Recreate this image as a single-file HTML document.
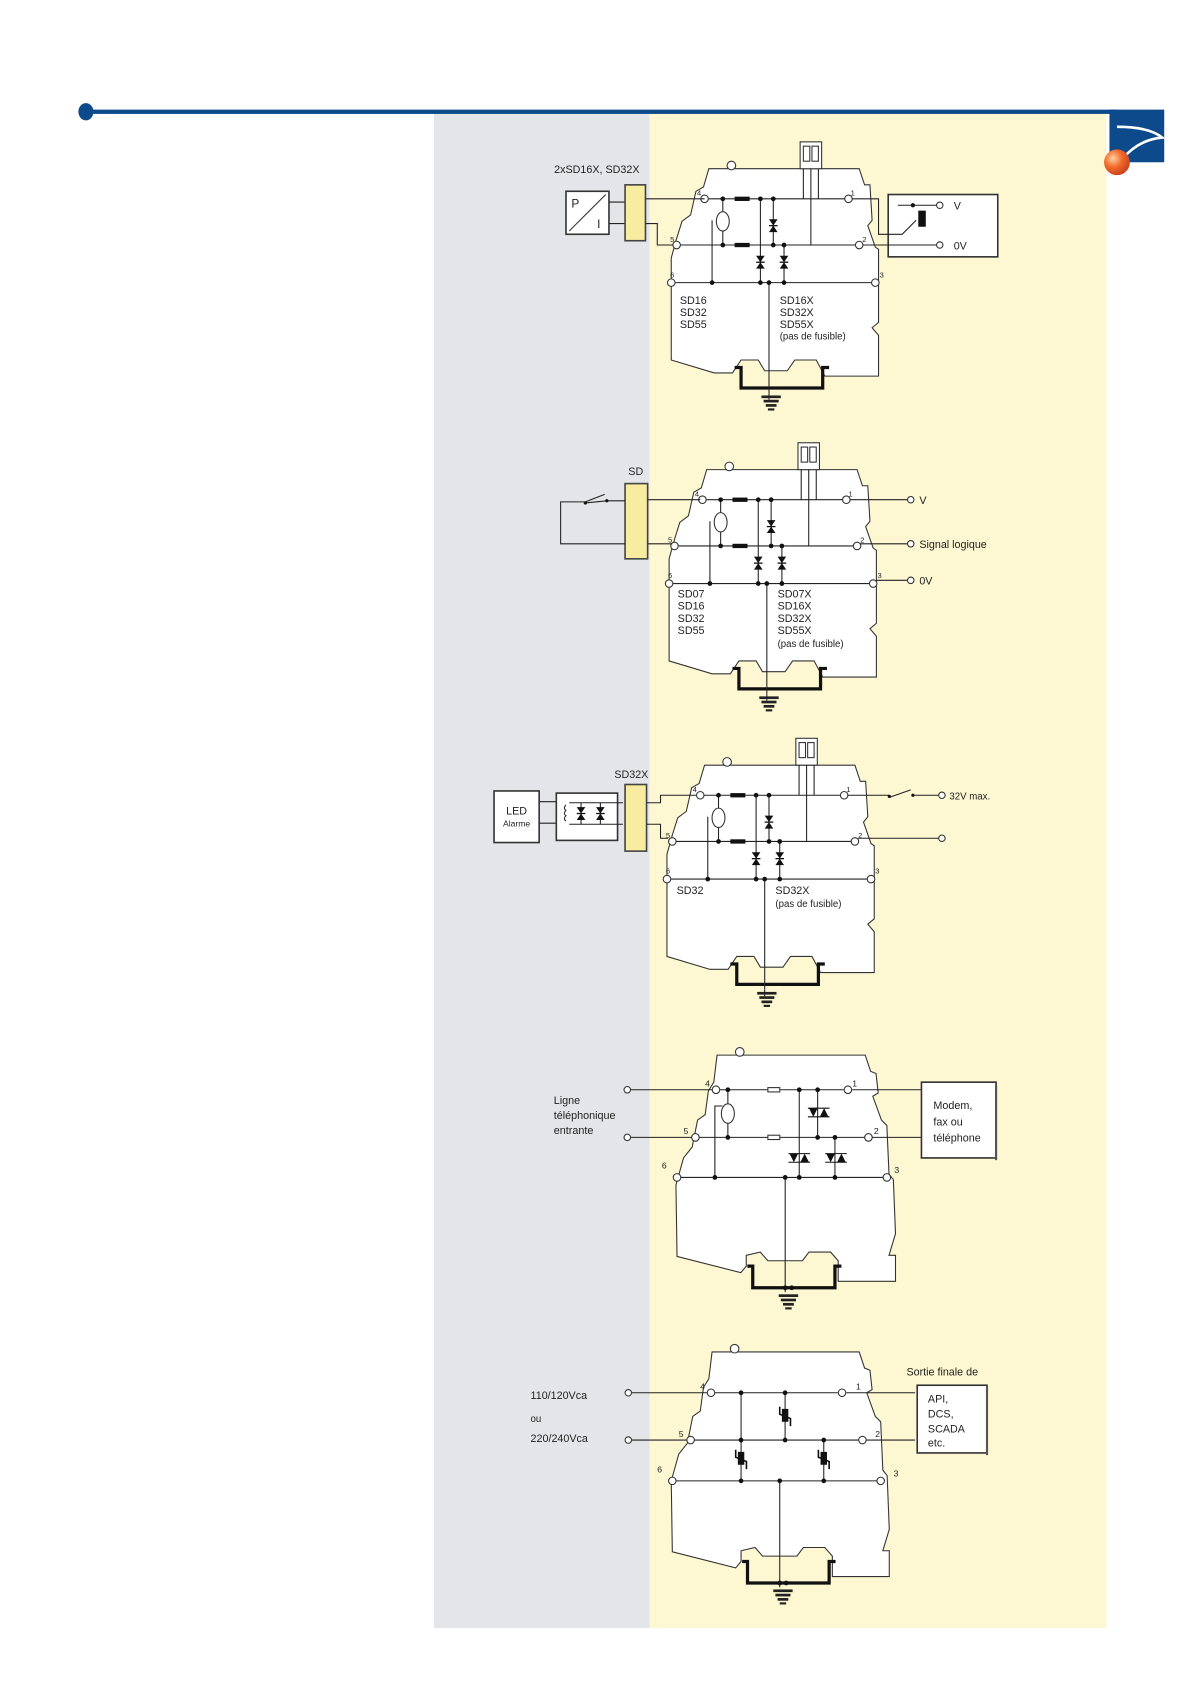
<!DOCTYPE html>
<html><head><meta charset="utf-8"><style>
html,body{margin:0;padding:0;background:#fff;}
svg{display:block;}
text{font-family:"Liberation Sans",sans-serif;fill:#222;}
</style></head><body>
<svg width="1190" height="1684" viewBox="0 0 1108 1567" preserveAspectRatio="none" xmlns="http://www.w3.org/2000/svg">
<defs>
<radialGradient id="ball" cx="0.35" cy="0.35" r="0.7"><stop offset="0" stop-color="#ffd0a0"/><stop offset="0.5" stop-color="#f26a2a"/><stop offset="1" stop-color="#c8401a"/></radialGradient>
<g id="gnd" fill="#222"><rect x="-9" y="0" width="18" height="2.5"/><rect x="-7" y="4" width="14" height="2.5"/><rect x="-5" y="8" width="10" height="2.5"/><rect x="-3" y="12" width="6" height="2"/></g>
<g id="dio"><polygon points="-4,-4 4,-4 0,2" fill="#111"/><line x1="-4" y1="2" x2="4" y2="2" stroke="#111" stroke-width="1.2"/><polygon points="-4,8 4,8 0,2" fill="#111"/></g>
<g id="thy"><polygon points="-10,-4 -2,-4 -6,4" fill="#111"/><polygon points="0,4 8,4 4,-4" fill="#111"/><line x1="-11" y1="4" x2="9" y2="4" stroke="#111"/><line x1="-11" y1="-4" x2="9" y2="-4" stroke="#111"/></g>
<g id="var" fill="#111"><rect x="-3" y="-7" width="6" height="12"/><polyline points="-5,-9 -5,-2 5,2 5,9" fill="none" stroke="#111" stroke-width="1.5"/></g>
<g id="modA">
<polygon points="660,157 800,157 805,172 810,172 812,205 808,210 815,230 818,232 818,300 812,305 818,312 818,350 768,350 760,335 740,335 733,345 712,345 706,335 690,335 682,347 665,347 625,335 625,240 630,222 635,206 643,200 648,178 655,174" fill="#fff" stroke="#333" stroke-width="1"/>
<circle cx="681" cy="154" r="4" fill="#fff" stroke="#333"/>
<path d="M684,342 L690,342 L690,361 L766,361 L766,342 L772,342" fill="none" stroke="#111" stroke-width="3"/>
<rect x="745" y="132" width="20" height="25" fill="#fff" stroke="#333"/>
<rect x="748" y="136" width="6" height="14" fill="none" stroke="#333"/><rect x="756" y="136" width="6" height="14" fill="none" stroke="#333"/>
<g stroke="#222" stroke-width="1" fill="none">
<line x1="659" y1="185" x2="787" y2="185"/>
<line x1="633" y1="228" x2="797" y2="228"/>
<line x1="628" y1="263" x2="812" y2="263"/>
<line x1="673" y1="185" x2="673" y2="228"/>
<line x1="663" y1="205" x2="663" y2="263"/>
<line x1="708" y1="185" x2="708" y2="263"/>
<line x1="720" y1="185" x2="720" y2="228"/>
<line x1="730" y1="228" x2="730" y2="263"/>
<line x1="716" y1="263" x2="716" y2="366"/>
<line x1="748" y1="157" x2="748" y2="185"/>
<line x1="755" y1="157" x2="755" y2="228"/>
<line x1="762" y1="157" x2="762" y2="185"/>
</g>
<g fill="#fff" stroke="#333"><circle cx="656" cy="185" r="3.5"/><circle cx="790" cy="185" r="3.5"/><circle cx="630" cy="228" r="3.5"/><circle cx="800" cy="228" r="3.5"/><circle cx="625" cy="263" r="3.5"/><circle cx="815" cy="263" r="3.5"/>
<ellipse cx="673" cy="206" rx="6" ry="9"/></g>
<g fill="#111"><rect x="684" y="183" width="14" height="4"/><rect x="684" y="226" width="14" height="4"/>
<circle cx="673" cy="185" r="2.2"/><circle cx="673" cy="228" r="2.2"/><circle cx="708" cy="185" r="2.2"/><circle cx="720" cy="185" r="2.2"/><circle cx="720" cy="228" r="2.2"/><circle cx="730" cy="228" r="2.2"/><circle cx="663" cy="263" r="2.2"/><circle cx="708" cy="263" r="2.2"/><circle cx="716" cy="263" r="2.2"/><circle cx="730" cy="263" r="2.2"/></g>
<use href="#dio" x="720" y="208"/><use href="#dio" x="708" y="242"/><use href="#dio" x="730" y="242"/>
<line x1="716" y1="366" x2="716" y2="372" stroke="#222"/>
<use href="#gnd" x="718" y="368"/>
<text x="624" y="258" font-size="7">6</text><text x="819" y="258" font-size="7">3</text>
<text x="649" y="182" font-size="7">4</text><text x="792" y="182" font-size="7">1</text>
<text x="624" y="225" font-size="7">5</text><text x="803" y="225" font-size="7">2</text>
</g>
<g id="modB">
<polygon points="663,975 800,975 805,990 810,992 812,1010 807,1013 815,1035 820,1040 822,1085 826,1090 828,1140 822,1160 828,1160 828,1184 775,1184 775,1165 768,1157 748,1157 742,1165 710,1165 703,1157 690,1160 690,1170 685,1176 626,1161 625,1095 632,1070 640,1060 645,1035 652,1030 655,1008 660,1000" fill="#fff" stroke="#333"/>
<circle cx="684" cy="972" r="4" fill="#fff" stroke="#333"/>
<path d="M691,1170 L696,1170 L696,1190 L772,1190 L772,1170 L778,1170" fill="none" stroke="#111" stroke-width="3"/>
<g stroke="#222" fill="none">
<line x1="582" y1="1007" x2="660" y2="1007"/><line x1="665" y1="1007" x2="780" y2="1007"/><line x1="788" y1="1007" x2="852" y2="1007"/>
<line x1="582" y1="1051" x2="640" y2="1051"/><line x1="646" y1="1051" x2="800" y2="1051"/><line x1="806" y1="1051" x2="852" y2="1051"/>
<line x1="629" y1="1088" x2="817" y2="1088"/>
<line x1="673" y1="1007" x2="673" y2="1051"/>
<polyline points="668,1022 661,1022 661,1088"/>
<line x1="739" y1="1007" x2="739" y2="1088"/>
<line x1="756" y1="1007" x2="756" y2="1051"/>
<line x1="772" y1="1051" x2="772" y2="1088"/>
<line x1="726" y1="1088" x2="726" y2="1194"/>
</g>
<g fill="#fff" stroke="#333"><circle cx="662" cy="1007" r="3.5"/><circle cx="784" cy="1007" r="3.5"/><circle cx="643" cy="1051" r="3.5"/><circle cx="803" cy="1051" r="3.5"/><circle cx="626" cy="1088" r="3.5"/><circle cx="820" cy="1088" r="3.5"/>
<circle cx="580" cy="1007" r="3"/><circle cx="580" cy="1051" r="3"/>
<ellipse cx="673" cy="1029" rx="6" ry="9"/><rect x="710" y="1005" width="11" height="4"/><rect x="710" y="1049" width="11" height="4"/></g>
<g fill="#111"><circle cx="673" cy="1007" r="2.2"/><circle cx="673" cy="1051" r="2.2"/><circle cx="739" cy="1007" r="2.2"/><circle cx="756" cy="1007" r="2.2"/><circle cx="756" cy="1051" r="2.2"/><circle cx="772" cy="1051" r="2.2"/><circle cx="661" cy="1088" r="2.2"/><circle cx="726" cy="1088" r="2.2"/><circle cx="739" cy="1088" r="2.2"/><circle cx="772" cy="1088" r="2.2"/><circle cx="726" cy="1190" r="2.2"/><circle cx="732" cy="1190" r="2.2"/></g>
<use href="#thy" x="758" y="1028"/><use href="#thy" x="740" y="1070"/><use href="#thy" x="774" y="1070"/>
<use href="#gnd" x="729" y="1196"/>
<text x="652" y="1004" font-size="8">4</text><text x="788" y="1004" font-size="8">1</text>
<text x="632" y="1048" font-size="8">5</text><text x="808" y="1048" font-size="8">2</text>
<text x="612" y="1080" font-size="8">6</text><text x="827" y="1084" font-size="8">3</text>
</g>
</defs>

<rect x="404" y="104" width="201" height="1411" fill="#e4e5e8"/>
<rect x="605" y="104" width="425" height="1411" fill="#fdf7d2"/>
<rect x="80" y="102" width="960" height="4" fill="#0d4a8c"/>
<ellipse cx="80" cy="104" rx="7" ry="8" fill="#0d4a8c"/>
<rect x="1033" y="102" width="51" height="49" fill="#0d4a8c"/>
<path d="M1040,118 Q1070,118 1082,128 Q1060,130 1045,148" fill="none" stroke="#fff" stroke-width="2.5"/>
<circle cx="1040" cy="151" r="12" fill="url(#ball)"/>

<use href="#modA"/>
<text x="516" y="161" font-size="10">2xSD16X, SD32X</text>
<rect x="527" y="178" width="40" height="40" fill="#fff" stroke="#333" stroke-width="1.5"/>
<line x1="530" y1="215" x2="564" y2="181" stroke="#333"/>
<text x="532" y="193" font-size="11">P</text><text x="556" y="212" font-size="11">I</text>
<line x1="567" y1="188" x2="582" y2="188" stroke="#222"/><line x1="567" y1="208" x2="582" y2="208" stroke="#222"/>
<rect x="582" y="172" width="19" height="52" fill="#f7eca0" stroke="#444" stroke-width="1.5"/>
<line x1="601" y1="185" x2="656" y2="185" stroke="#222"/>
<polyline points="601,208 612,208 612,228 627,228" fill="none" stroke="#222"/>
<rect x="827" y="181" width="102" height="58" fill="#fff" stroke="#333" stroke-width="1.5"/>
<polyline points="793,185 818,185 818,218 840,218 853,205" fill="none" stroke="#222"/>
<line x1="836" y1="191" x2="872" y2="191" stroke="#222"/><circle cx="850" cy="191" r="2" fill="#111"/>
<rect x="855" y="196" width="7" height="15" fill="#111"/>
<line x1="803" y1="228" x2="872" y2="228" stroke="#222"/>
<circle cx="875" cy="191" r="3" fill="#fff" stroke="#333"/><circle cx="875" cy="228" r="3" fill="#fff" stroke="#333"/>
<text x="888" y="195" font-size="10">V</text><text x="888" y="232" font-size="10">0V</text>
<text x="633" y="283" font-size="10">SD16</text><text x="633" y="294" font-size="10">SD32</text><text x="633" y="305" font-size="10">SD55</text>
<text x="726" y="283" font-size="10">SD16X</text><text x="726" y="294" font-size="10">SD32X</text><text x="726" y="305" font-size="10">SD55X</text><text x="726" y="316" font-size="9">(pas de fusible)</text>

<g transform="translate(-2,280)"><use href="#modA"/></g>
<text x="585" y="442" font-size="10">SD</text>
<rect x="582" y="450" width="21" height="70" fill="#f7eca0" stroke="#444" stroke-width="1.5"/>
<polyline points="582,466 565,466 545,468" fill="none" stroke="#222"/>
<line x1="545" y1="467" x2="563" y2="460" stroke="#222"/>
<circle cx="545" cy="468" r="1.5" fill="#111"/><circle cx="565" cy="466" r="1.5" fill="#111"/>
<polyline points="545,467 522,467 522,506 582,506" fill="none" stroke="#222"/>
<line x1="603" y1="465" x2="652" y2="465" stroke="#222"/>
<line x1="603" y1="506" x2="626" y2="506" stroke="#222"/>
<line x1="791" y1="465" x2="845" y2="465" stroke="#222"/>
<line x1="801" y1="506" x2="845" y2="506" stroke="#222"/>
<line x1="816" y1="540" x2="845" y2="540" stroke="#222"/>
<circle cx="848" cy="465" r="3" fill="#fff" stroke="#333"/><circle cx="848" cy="506" r="3" fill="#fff" stroke="#333"/><circle cx="848" cy="540" r="3" fill="#fff" stroke="#333"/>
<text x="856" y="469" font-size="10">V</text><text x="856" y="510" font-size="10">Signal logique</text><text x="856" y="544" font-size="10">0V</text>
<text x="631" y="556" font-size="10">SD07</text><text x="631" y="567" font-size="10">SD16</text><text x="631" y="579" font-size="10">SD32</text><text x="631" y="590" font-size="10">SD55</text>
<text x="724" y="556" font-size="10">SD07X</text><text x="724" y="567" font-size="10">SD16X</text><text x="724" y="579" font-size="10">SD32X</text><text x="724" y="590" font-size="10">SD55X</text><text x="724" y="602" font-size="9">(pas de fusible)</text>

<g transform="translate(-4,555)"><use href="#modA"/></g>
<text x="572" y="724" font-size="10">SD32X</text>
<rect x="460" y="736" width="42" height="48" fill="#fff" stroke="#333" stroke-width="1.5"/>
<text x="481" y="758" font-size="10" text-anchor="middle">LED</text><text x="481" y="769" font-size="8" text-anchor="middle">Alarme</text>
<line x1="502" y1="746" x2="518" y2="746" stroke="#222"/><line x1="502" y1="766" x2="518" y2="766" stroke="#222"/>
<rect x="518" y="738" width="57" height="44" fill="#fff" stroke="#333" stroke-width="1.5"/>
<line x1="530" y1="747" x2="580" y2="747" stroke="#222"/><line x1="530" y1="767" x2="580" y2="767" stroke="#222"/>
<line x1="541" y1="747" x2="541" y2="767" stroke="#222"/><line x1="559" y1="747" x2="559" y2="767" stroke="#222"/>
<use href="#dio" x="541" y="755"/><use href="#dio" x="559" y="755"/>
<path d="M527,749 q-3,3 0,5 q-3,3 0,5 q-3,3 0,5" fill="none" stroke="#333"/>
<rect x="582" y="730" width="20" height="62" fill="#f7eca0" stroke="#444" stroke-width="1.5"/>
<polyline points="602,747 615,747 615,740 648,740" fill="none" stroke="#222"/>
<polyline points="602,767 615,767 615,780 622,780" fill="none" stroke="#222"/>
<line x1="789" y1="740" x2="828" y2="740" stroke="#222"/>
<line x1="828" y1="742" x2="848" y2="735" stroke="#222"/><circle cx="828" cy="741" r="1.5" fill="#111"/><circle cx="850" cy="740" r="1.5" fill="#111"/>
<line x1="850" y1="740" x2="874" y2="740" stroke="#222"/>
<line x1="799" y1="780" x2="874" y2="780" stroke="#222"/>
<circle cx="877" cy="740" r="3" fill="#fff" stroke="#333"/><circle cx="877" cy="780" r="3" fill="#fff" stroke="#333"/>
<text x="884" y="744" font-size="9">32V max.</text>
<text x="630" y="832" font-size="10">SD32</text>
<text x="722" y="832" font-size="10">SD32X</text><text x="722" y="844" font-size="9">(pas de fusible)</text>

<g transform="scale(1.007)"><use href="#modB"/>
<text x="512" y="1020" font-size="10">Ligne</text><text x="512" y="1034" font-size="10">téléphonique</text><text x="512" y="1048" font-size="10">entrante</text>
<rect x="852" y="1000" width="69" height="70" fill="#fff" stroke="#333" stroke-width="1.5"/>
<line x1="921" y1="1003" x2="921" y2="1072" stroke="#555" stroke-width="2"/>
<text x="863" y="1025" font-size="10">Modem,</text><text x="863" y="1040" font-size="10">fax ou</text><text x="863" y="1055" font-size="10">téléphone</text>
</g>

<g transform="translate(0,283)">
<polygon points="663,975 800,975 805,990 810,992 812,1010 807,1013 815,1035 820,1040 822,1085 826,1090 828,1140 822,1160 828,1160 828,1184 775,1184 775,1165 768,1157 748,1157 742,1165 710,1165 703,1157 690,1160 690,1170 685,1176 626,1161 625,1095 632,1070 640,1060 645,1035 652,1030 655,1008 660,1000" fill="#fff" stroke="#333"/>
<circle cx="684" cy="972" r="4" fill="#fff" stroke="#333"/>
<path d="M691,1170 L696,1170 L696,1190 L772,1190 L772,1170 L778,1170" fill="none" stroke="#111" stroke-width="3"/>
<g stroke="#222" fill="none">
<line x1="587" y1="1013" x2="660" y2="1013"/><line x1="665" y1="1013" x2="780" y2="1013"/><line x1="788" y1="1013" x2="852" y2="1013"/>
<line x1="587" y1="1057" x2="640" y2="1057"/><line x1="646" y1="1057" x2="800" y2="1057"/><line x1="806" y1="1057" x2="852" y2="1057"/>
<line x1="629" y1="1095" x2="817" y2="1095"/>
<line x1="690" y1="1013" x2="690" y2="1095"/>
<line x1="731" y1="1013" x2="731" y2="1057"/>
<line x1="767" y1="1057" x2="767" y2="1095"/>
<line x1="726" y1="1095" x2="726" y2="1194"/>
</g>
<g fill="#fff" stroke="#333"><circle cx="662" cy="1013" r="3.5"/><circle cx="784" cy="1013" r="3.5"/><circle cx="643" cy="1057" r="3.5"/><circle cx="803" cy="1057" r="3.5"/><circle cx="626" cy="1095" r="3.5"/><circle cx="820" cy="1095" r="3.5"/><circle cx="585" cy="1013" r="3"/><circle cx="585" cy="1057" r="3"/></g>
<g fill="#111"><circle cx="690" cy="1013" r="2.2"/><circle cx="731" cy="1013" r="2.2"/><circle cx="731" cy="1057" r="2.2"/><circle cx="767" cy="1057" r="2.2"/><circle cx="690" cy="1057" r="2.2"/><circle cx="690" cy="1095" r="2.2"/><circle cx="726" cy="1095" r="2.2"/><circle cx="767" cy="1095" r="2.2"/><circle cx="726" cy="1190" r="2.2"/><circle cx="732" cy="1190" r="2.2"/></g>
<use href="#var" x="731" y="1035"/><use href="#var" x="690" y="1075"/><use href="#var" x="767" y="1075"/>
<use href="#gnd" x="729" y="1196"/>
<text x="652" y="1010" font-size="8">4</text><text x="797" y="1010" font-size="8">1</text>
<text x="632" y="1054" font-size="8">5</text><text x="815" y="1054" font-size="8">2</text>
<text x="612" y="1087" font-size="8">6</text><text x="832" y="1091" font-size="8">3</text>
</g>
<text x="494" y="1302" font-size="10">110/120Vca</text><text x="494" y="1323" font-size="9">ou</text><text x="494" y="1342" font-size="10">220/240Vca</text>
<text x="844" y="1280" font-size="10">Sortie finale de</text>
<rect x="854" y="1289" width="65" height="63" fill="#fff" stroke="#333" stroke-width="1.5"/>
<line x1="919" y1="1292" x2="919" y2="1354" stroke="#555" stroke-width="2"/>
<text x="864" y="1305" font-size="10">API,</text><text x="864" y="1319" font-size="10">DCS,</text><text x="864" y="1333" font-size="10">SCADA</text><text x="864" y="1346" font-size="10">etc.</text>
</svg>
</body></html>
